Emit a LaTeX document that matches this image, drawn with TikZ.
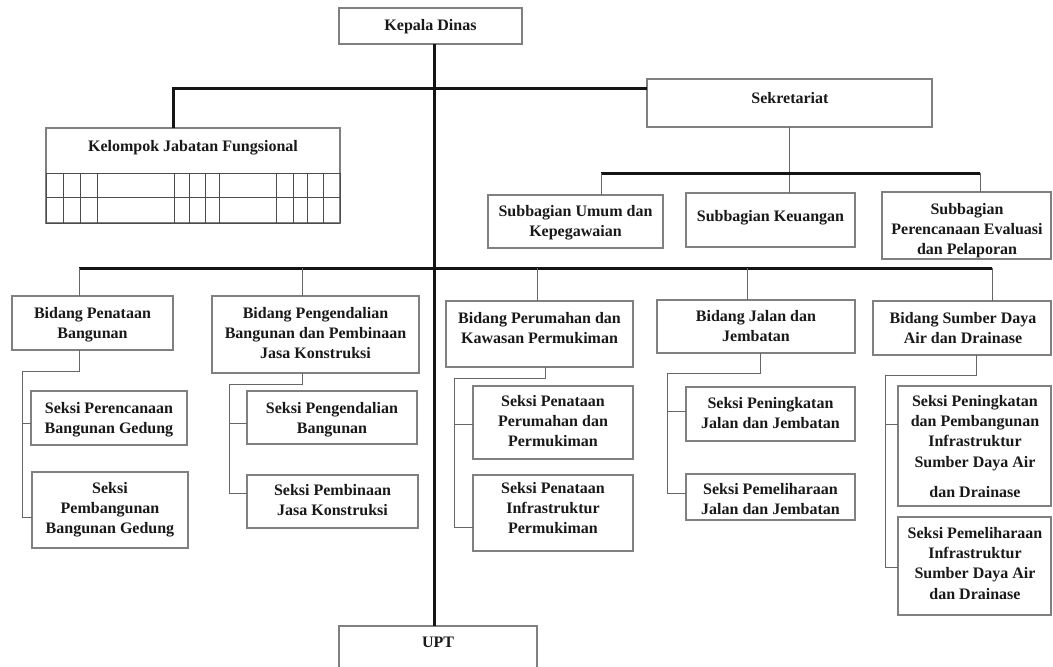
\documentclass[tikz,border=0pt]{standalone}
\usepackage{fontspec}
\setmainfont{Liberation Serif}
\usetikzlibrary{calc}
\tikzset{
  box/.style={draw=black!50, line width=1.1pt, fill=white, inner sep=0pt, outer sep=0pt},
  txt/.style={inner sep=0pt, outer sep=0pt, align=center, text=black!90,
    font=\fontsize{16}{20.3}\selectfont\bfseries},
  thickl/.style={draw=black!92, line width=3pt},
  thinl/.style={draw=black!60, line width=1pt},
  gridl/.style={draw=black!70, line width=1pt},
}
\newcommand\obox[5]{\node[box, anchor=north west, minimum width={(#4-#2)*1pt}, minimum height={(#5-#3)*1pt}] (#1) at (#2,#3) {};}
\newcommand\otxt[4]{\node[txt, anchor=north] (#1) at (#2,#3) {#4};}
\newcommand\branch[8]{%
  \coordinate (#1-t) at (#2,#3);
  \coordinate (#1-r) at (#4,#3);
  \coordinate (#1-a) at (#4,#5);
  \coordinate (#1-b) at (#4,#6);
  \draw[thinl] (#1.south -| #1-t) -- (#1-t) -- (#1-r) -- (#1-b) -- (#1-b -| #8.west);
  \draw[thinl] (#1-a) -- (#1-a -| #7.west);
}
\begin{document}
\begin{tikzpicture}[x=1pt, y=-1pt]
\useasboundingbox[fill=white] (0,0) rectangle (1053,667);

\coordinate (spine) at (434,0);
\coordinate (jk) at (173,88);
\coordinate (sa) at (601,173);
\coordinate (sb) at (980,173);
\coordinate (ba) at (79,268);
\coordinate (t2) at (302,268);
\coordinate (t3) at (537,268);
\coordinate (t4) at (747,268);
\coordinate (bb) at (992,268);

% boxes
\obox{kd}{339}{8}{522}{44}
\obox{sek}{647}{79}{932}{127}
\obox{kjf}{46}{128}{340}{223}
\obox{sumum}{488}{195}{663}{248}
\obox{skeu}{686}{193}{855}{247}
\obox{sren}{882}{192}{1051}{259}
\obox{b1}{12}{296}{173}{350}
\obox{b2}{212}{296}{419}{373}
\obox{b3}{446}{301}{633}{367}
\obox{b4}{657}{300}{855}{353}
\obox{b5}{873}{301}{1051}{355}
\obox{s11}{31}{391}{187}{445}
\obox{s12}{32}{472}{188}{548}
\obox{s21}{247}{391}{417}{444}
\obox{s22}{247}{475}{418}{528}
\obox{s31}{473}{386}{633}{459}
\obox{s32}{473}{475}{633}{551}
\obox{s41}{686}{387}{855}{441}
\obox{s42}{686}{474}{855}{520}
\obox{s51}{898}{386}{1051}{506}
\obox{s52}{898}{517}{1051}{615}
\obox{upt}{339}{626}{537}{690}

% main lines
\draw[thickl] (kd.south -| spine) -- (upt.north -| spine);
\draw[thickl] (kjf.north -| jk) -- (jk) -- (sek.west |- jk);
\draw[thinl] (sek.south) -- (sek.south |- skeu.north);
\draw[thickl] (sa) -- (sb);
\draw[thinl] (sa) -- (sa |- sumum.north);
\draw[thinl] (sb) -- (sb |- sren.north);
\draw[thickl] (ba) -- (bb);
\draw[thinl] (ba) -- (ba |- b1.north);
\draw[thinl] (t2) -- (t2 |- b2.north);
\draw[thinl] (t3) -- (t3 |- b3.north);
\draw[thinl] (t4) -- (t4 |- b4.north);
\draw[thinl] (bb) -- (bb |- b5.north);

% column branches
\branch{b1}{79}{371}{22}{423}{517}{s11}{s12}
\branch{b2}{302}{384}{229}{423}{493}{s21}{s22}
\branch{b3}{545}{378}{454}{424}{527}{s31}{s32}
\branch{b4}{760}{373}{667}{411}{493}{s41}{s42}
\branch{b5}{976}{375}{885}{424}{567}{s51}{s52}

% table of Kelompok Jabatan Fungsional
\draw[gridl] (46,173) -- (340,173);
\draw[gridl] (46,197) -- (340,197);
\draw[gridl] (46,223) -- (340,223);
\foreach \gx in {63,80,97,174,189,205,219,276,293,307,323}
  \draw[gridl] (\gx,173) -- (\gx,223);
\draw[gridl] (46,173) -- (46,223);
\draw[gridl] (340,173) -- (340,223);

% texts
\otxt{kd-t}{430.5}{19}{Kepala Dinas}
\otxt{sek-t}{790}{92}{Sekretariat}
\otxt{kjf-t}{193}{140}{Kelompok Jabatan Fungsional}
\otxt{sumum-t}{575.5}{205}{Subbagian Umum dan\\Kepegawaian}
\otxt{skeu-t}{770.5}{210}{Subbagian Keuangan}
\otxt{sren-t}{967}{203}{Subbagian\\Perencanaan Evaluasi\\dan Pelaporan}
\otxt{b1-t}{92.5}{307}{Bidang Penataan\\Bangunan}
\otxt{b2-t}{315.5}{307}{Bidang Pengendalian\\Bangunan dan Pembinaan\\Jasa Konstruksi}
\otxt{b3-t}{539.5}{312}{Bidang Perumahan dan\\Kawasan Permukiman}
\otxt{b4-t}{756}{310}{Bidang Jalan dan\\Jembatan}
\otxt{b5-t}{963}{312}{Bidang Sumber Daya\\Air dan Drainase}
\otxt{s11-t}{109}{402}{Seksi Perencanaan\\Bangunan Gedung}
\otxt{s12-t}{110}{482}{Seksi\\Pembangunan\\Bangunan Gedung}
\otxt{s21-t}{332}{402}{Seksi Pengendalian\\Bangunan}
\otxt{s22-t}{332.5}{484}{Seksi Pembinaan\\Jasa Konstruksi}
\otxt{s31-t}{553}{395}{Seksi Penataan\\Perumahan dan\\Permukiman}
\otxt{s32-t}{553}{482}{Seksi Penataan\\Infrastruktur\\Permukiman}
\otxt{s41-t}{770.5}{397}{Seksi Peningkatan\\Jalan dan Jembatan}
\otxt{s42-t}{770.5}{483}{Seksi Pemeliharaan\\Jalan dan Jembatan}
\otxt{s51-t}{975}{395}{Seksi Peningkatan\\dan Pembangunan\\Infrastruktur\\Sumber Daya Air\\[10pt]dan Drainase}
\otxt{s52-t}{975}{527}{Seksi Pemeliharaan\\Infrastruktur\\Sumber Daya Air\\dan Drainase}
\otxt{upt-t}{438}{637}{UPT}
\end{tikzpicture}
\end{document}
